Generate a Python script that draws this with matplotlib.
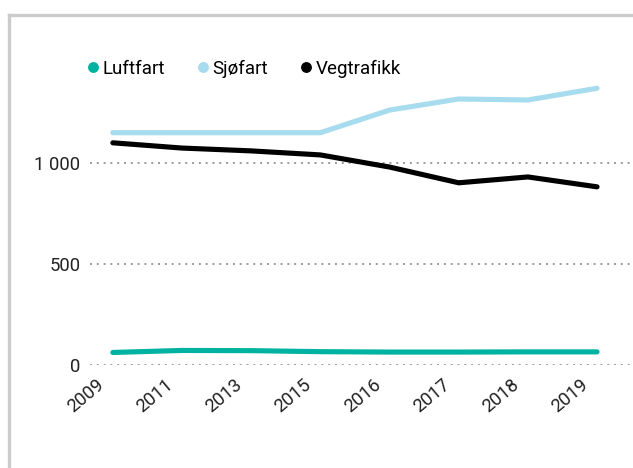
import matplotlib
matplotlib.use("Agg")
import matplotlib.pyplot as plt
import matplotlib.transforms as mtransforms
from matplotlib.lines import Line2D

plt.rcParams["font.family"] = ["Roboto", "DejaVu Sans"]

# data
years = ["2009", "2011", "2013", "2015", "2016", "2017", "2018", "2019"]
luftfart = [62, 72, 71, 66, 64, 64, 65, 65]
sjofart = [1150, 1150, 1150, 1150, 1262, 1317, 1312, 1370]
vegtrafikk = [1100, 1074, 1060, 1040, 980, 902, 931, 882]

series_names = ["Luftfart", "Sjøfart", "Vegtrafikk"]
series_colors = ["#00b2a1", "#a7dbee", "#000000"]

fig = plt.figure(figsize=(6.33, 4.68), dpi=100)
ax = fig.add_axes([0.1422, 0.2201, 0.8578, 0.6474])

x = list(range(len(years)))
for vals, col in zip([luftfart, sjofart, vegtrafikk], series_colors):
    ax.plot(x, vals, color=col, linewidth=3.7, solid_capstyle="round", zorder=3)

ax.set_xlim(-0.33, 7.52)
ax.set_ylim(0, 1500)
ax.set_yticks([0, 500, 1000])
ax.yaxis.set_major_formatter(plt.FuncFormatter(lambda v, _: f"{v:,.0f}".replace(",", " ")))
ax.set_xticks(x)
ax.set_xticklabels([])

ax.grid(axis="y", color="#9a9a9a", linestyle=(0, (1, 2.5)), linewidth=1.4)
ax.set_axisbelow(True)
ax.tick_params(axis="both", length=0, labelsize=13.3, colors="#222222")
ax.tick_params(axis="y", pad=7)
for spine in ax.spines.values():
    spine.set_visible(False)

# rotated year labels, sitting a little left of and below each category
shift = mtransforms.ScaledTranslation(-0.17, -0.11, fig.dpi_scale_trans)
for i, yr in zip(x, years):
    ax.text(i, 0, yr, transform=ax.get_xaxis_transform() + shift,
            rotation=40, rotation_mode="anchor", ha="right", va="top",
            fontsize=13.3, color="#222222")

handles = [Line2D([], [], marker="o", linestyle="none", markersize=6.8,
                  markerfacecolor=c, markeredgecolor=c) for c in series_colors]
fig.legend(handles, series_names, ncol=3, loc="center left",
           bbox_to_anchor=(0.123, 0.8526), frameon=False, fontsize=13.5,
           borderpad=0, handlelength=0.6, handletextpad=0.23, columnspacing=1.7)

# grey frame on the top and left
border = "#cccccc"
fig.add_artist(Line2D([0.014, 1.0], [0.968, 0.968], color=border, linewidth=2.4))
fig.add_artist(Line2D([0.014, 0.014], [0.0, 0.968], color=border, linewidth=2.4))

fig.savefig("out.png", dpi=100)
